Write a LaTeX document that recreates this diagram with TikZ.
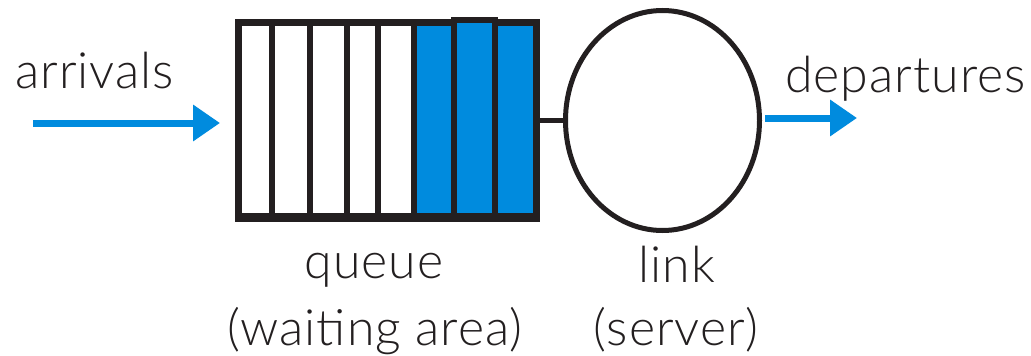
\documentclass[tikz,border=0pt]{standalone}
\usepackage{fontspec}
\setmainfont{Lato}[UprightFont=* Light,LetterSpace=2]
\usetikzlibrary{arrows.meta,shapes.geometric}
\definecolor{qblue}{RGB}{0,139,222}
\definecolor{qblack}{RGB}{35,31,32}
\tikzset{
  lbl/.style={inner sep=0pt,text=qblack,font=\fontsize{50}{60}\selectfont},
  flow/.style={draw=qblue,line width=7pt,-{Triangle[length=27pt,width=35pt]}},
  cellline/.style={draw=qblack,line width=5.5pt},
}
\begin{document}
\begin{tikzpicture}[x=1pt,y=-1pt]
\useasboundingbox (0,0) rectangle (1031,356);
% blue filled cells
\fill[qblue] (416,25) rectangle (534,216);
% queue outline
\node[draw=qblack,line width=7pt,rectangle,minimum width=298pt,minimum height=196pt,inner sep=0pt] (queue) at (387.5,120.5) {};
\draw[draw=qblack,line width=3pt] (236,214.5) -- (539,214.5);
% dividers
\foreach \x in {272,310,347,378,414}
  \draw[cellline] (\x,22) -- (\x,218);
% raised middle cell frame
\draw[draw=qblack,line width=6pt,fill=qblue] (454,20) rectangle (494.5,216);
% server
\node[draw=qblack,line width=5pt,ellipse,minimum width=194pt,minimum height=220pt,inner sep=0pt] (link) at (662.5,120.5) {};
\draw[draw=qblack,line width=5pt] (queue.east) -- (link.west);
% arrows
\coordinate (arrin) at (33,123);
\coordinate (arrinend) at (220,123);
\draw[flow] (arrin) -- (arrinend);
\coordinate (depstart) at (765,118);
\coordinate (depend) at (857,118);
\draw[flow] (depstart) -- (depend);
% labels
\node[lbl,anchor=base west] (arrivals) at (15,88) {arrivals};
\node[lbl,anchor=base west] (departures) at (785,92) {departures};
\node[lbl,anchor=base] (qlabel) at (374,278) {queue};
\node[lbl,anchor=base] (qlabel2) at (375,345) {(waiting area)};
\node[lbl,anchor=base] (llabel) at (677,282) {link};
\node[lbl,anchor=base] (llabel2) at (676,345) {(server)};
\end{tikzpicture}
\end{document}
